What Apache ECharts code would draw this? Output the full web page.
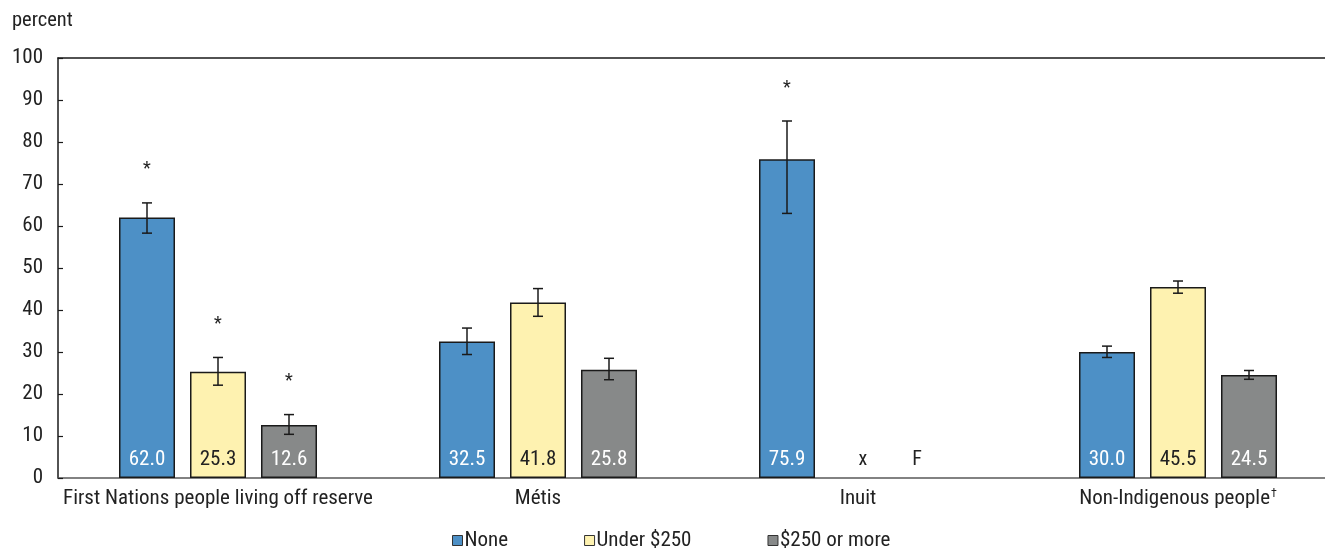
<!DOCTYPE html>
<html>
<head>
<meta charset="utf-8">
<script src="https://cdn.jsdelivr.net/npm/echarts@6/dist/echarts.min.js"></script>
<style>
  html, body { margin: 0; padding: 0; background: #fff; overflow: hidden; }
  /* the plot runs a little past the right edge of the window */
  #chart { width: 1338px; height: 548px; }
</style>
</head>
<body>
<div id="chart"></div>
<script>
// Categories along the x axis
const categories = ['First Nations people living off reserve', 'Métis', 'Inuit', 'Non-Indigenous people\u2020'];
const seriesNames = ['None', 'Under $250', '$250 or more'];

// Percent values per series (null = not published)
const noneValues = [62.0, 32.5, 75.9, 30.0];
const under250Values = [25.3, 41.8, null, 45.5];
const over250Values = [12.6, 25.8, null, 24.5];

// Codes shown in place of unpublished values
const under250Codes = [null, null, 'x', null];
const over250Codes = [null, null, 'F', null];

// 95% confidence interval bounds
const noneLow = [58.3, 29.4, 63.0, 28.7];
const noneHigh = [65.5, 35.7, 85.0, 31.4];
const under250Low = [22.1, 38.5, null, 44.0];
const under250High = [28.7, 45.1, null, 46.9];
const over250Low = [10.4, 23.4, null, 23.5];
const over250High = [15.1, 28.5, null, 25.6];

// Significantly different from reference category (marked with *)
const noneSig = [true, false, true, false];
const under250Sig = [true, false, false, false];
const over250Sig = [true, false, false, false];

// Y axis ticks
const yMin = 0, yMax = 100, yStep = 10;

const FONT = '"Liberation Sans Narrow", "Roboto Condensed", "Liberation Sans", Arial, sans-serif';
const colors = ['#4d90c6', '#fef2b0', '#878989'];
const labelColors = ['#ffffff', '#222222', '#ffffff'];
const codeOffsets = [[0, 0], [5, 0], [-12, 0]];
const BAR_W = 56;
const BAR_GAP = 15;

const groups = [
  { values: noneValues, codes: [null, null, null, null], low: noneLow, high: noneHigh, sig: noneSig },
  { values: under250Values, codes: under250Codes, low: under250Low, high: under250High, sig: under250Sig },
  { values: over250Values, codes: over250Codes, low: over250Low, high: over250High, sig: over250Sig }
];

const barSeries = groups.map((g, si) => ({
  name: seriesNames[si],
  type: 'bar',
  barWidth: BAR_W,
  barGap: (BAR_GAP / BAR_W * 100) + '%',
  itemStyle: { color: colors[si], borderColor: '#1a1a1a', borderWidth: 1.5 },
  label: {
    show: true,
    position: 'insideBottom',
    distance: 8,
    fontFamily: FONT,
    fontSize: 21,
    color: labelColors[si],
    formatter: p => p.data.code ? p.data.code : p.value.toFixed(1)
  },
  data: g.values.map((v, ci) => {
    if (v === null && g.codes[ci]) {
      return {
        value: 0,
        code: g.codes[ci],
        itemStyle: { color: 'transparent', borderWidth: 0 },
        label: { color: '#222222', fontSize: 20, offset: codeOffsets[si] }
      };
    }
    return { value: v };
  })
}));

// Error bars and significance markers, offset to each bar slot
const errData = [];
groups.forEach((g, si) => {
  g.values.forEach((v, ci) => {
    if (g.low[ci] !== null) errData.push([ci, g.low[ci], g.high[ci], si, g.sig[ci] ? 1 : 0]);
  });
});

const errSeries = {
  type: 'custom',
  name: 'ci',
  silent: true,
  z: 10,
  encode: { x: 0, y: [1, 2] },
  data: errData,
  renderItem: function (params, api) {
    const ci = api.value(0);
    const si = api.value(3);
    const off = (si - 1) * (BAR_W + BAR_GAP);
    const lo = api.coord([ci, api.value(1)]);
    const hi = api.coord([ci, api.value(2)]);
    const x = lo[0] + off;
    const cap = 5;
    const st = { stroke: '#1a1a1a', lineWidth: 1.5 };
    const children = [
      { type: 'line', shape: { x1: x, y1: lo[1], x2: x, y2: hi[1] }, style: st },
      { type: 'line', shape: { x1: x - cap, y1: lo[1], x2: x + cap, y2: lo[1] }, style: st },
      { type: 'line', shape: { x1: x - cap, y1: hi[1], x2: x + cap, y2: hi[1] }, style: st }
    ];
    if (api.value(4)) {
      children.push({
        type: 'text',
        style: {
          text: '*', x: x, y: hi[1] - 33,
          align: 'center', verticalAlign: 'middle',
          fontFamily: FONT, fontSize: 18, fill: '#222222'
        }
      });
    }
    return { type: 'group', children: children };
  }
};

// Category labels: a trailing dagger is set as a superscript
function categoryLabel(name) {
  if (name.endsWith('\u2020')) return name.slice(0, -1) + '{sup|\u2020}';
  return name;
}

const chart = echarts.init(document.getElementById('chart'), null, { renderer: 'canvas' });
chart.setOption({
  animation: false,
  backgroundColor: '#ffffff',
  textStyle: { fontFamily: FONT },
  grid: { left: 58, right: 0, top: 58, bottom: 70, containLabel: false },
  graphic: [{
    type: 'text', left: 12, top: 10,
    style: { text: 'percent', fontFamily: FONT, fontSize: 20.5, fill: '#222222' }
  }],
  legend: {
    left: 447, top: 525,
    itemWidth: 10, itemHeight: 10, itemGap: 76,
    icon: 'rect',
    data: seriesNames.map(n => ({ name: n, itemStyle: { borderColor: '#333', borderWidth: 1 } })),
    textStyle: { fontFamily: FONT, fontSize: 21, color: '#222222', padding: [0, 0, 0, -3] },
    selectedMode: false
  },
  xAxis: [{
    type: 'category',
    data: categories,
    axisLine: { show: true, lineStyle: { color: '#595959', width: 1.5 } },
    axisTick: { show: false },
    axisLabel: {
      fontFamily: FONT, fontSize: 21, color: '#222222', margin: 10, interval: 0,
      formatter: categoryLabel,
      rich: { sup: { fontFamily: FONT, fontSize: 12, color: '#222222', verticalAlign: 'top', padding: [0, 0, 9, 1] } }
    }
  }, {
    type: 'category',
    position: 'top',
    data: categories,
    axisLine: { show: true, lineStyle: { color: '#1a1a1a', width: 1.5 } },
    axisTick: { show: false },
    axisLabel: { show: false }
  }],
  yAxis: {
    type: 'value',
    min: yMin, max: yMax, interval: yStep,
    axisLine: { show: true, lineStyle: { color: '#1a1a1a', width: 1.5 } },
    axisTick: { show: true, inside: true, length: 5, lineStyle: { color: '#1a1a1a', width: 1.2 } },
    splitLine: { show: false },
    axisLabel: { fontFamily: FONT, fontSize: 21, color: '#222222', margin: 15 }
  },
  series: barSeries.concat([errSeries])
});
</script>
</body>
</html>
